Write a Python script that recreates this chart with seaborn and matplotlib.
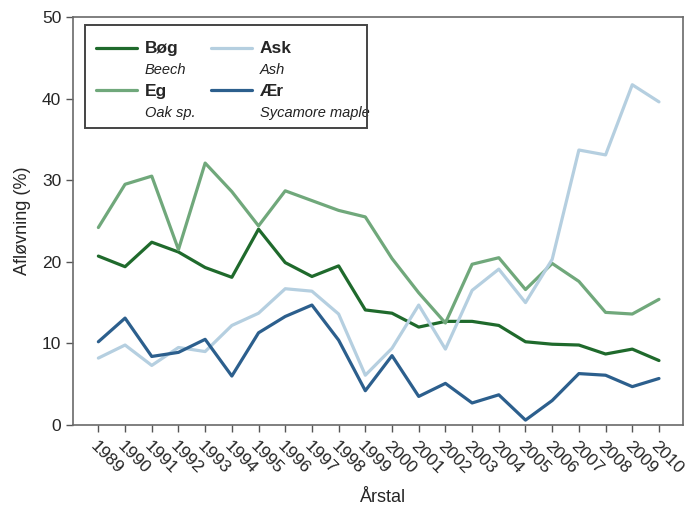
import matplotlib
matplotlib.use("Agg")
import matplotlib.pyplot as plt
from matplotlib.lines import Line2D
from matplotlib.patches import Rectangle
import seaborn as sns
import pandas as pd

years = list(range(1989, 2011))

bog = [20.7, 19.4, 22.4, 21.2, 19.3, 18.1, 24.0, 19.9, 18.2, 19.5, 14.1,
       13.7, 12.0, 12.7, 12.7, 12.2, 10.2, 9.9, 9.8, 8.7, 9.3, 7.9]
eg = [24.2, 29.5, 30.5, 21.5, 32.1, 28.6, 24.4, 28.7, 27.5, 26.3, 25.5,
      20.4, 16.2, 12.5, 19.7, 20.5, 16.6, 19.8, 17.6, 13.8, 13.6, 15.4]
ask = [8.2, 9.8, 7.3, 9.5, 9.0, 12.2, 13.7, 16.7, 16.4, 13.6, 6.1,
       9.4, 14.7, 9.3, 16.5, 19.1, 15.0, 20.3, 33.7, 33.1, 41.7, 39.6]
aer = [10.2, 13.1, 8.4, 8.9, 10.5, 6.0, 11.3, 13.3, 14.7, 10.4, 4.2,
       8.5, 3.5, 5.1, 2.7, 3.7, 0.6, 3.0, 6.3, 6.1, 4.7, 5.7]

species = ["Bøg", "Eg", "Ask", "Ær"]
english = {"Bøg": "Beech", "Eg": "Oak sp.", "Ask": "Ash", "Ær": "Sycamore maple"}
colors = {"Bøg": "#1f6a2c", "Eg": "#70a87b", "Ask": "#b5cfe0", "Ær": "#2c5f8d"}

series = {"Bøg": bog, "Eg": eg, "Ask": ask, "Ær": aer}
df = pd.DataFrame(
    [(y, s, v) for s in species for y, v in zip(years, series[s])],
    columns=["year", "species", "value"],
)

sns.set_theme(style="ticks")
plt.rcParams["font.family"] = ["Liberation Sans", "DejaVu Sans"]

W, H = 689, 516
fig = plt.figure(figsize=(W / 100, H / 100), dpi=100)
L, R, T, B = 73, 683, 17, 425
ax = fig.add_axes([L / W, 1 - B / H, (R - L) / W, (B - T) / H])

sns.lineplot(data=df, x="year", y="value", hue="species", hue_order=species,
             palette=colors, linewidth=2.3, legend=False, ax=ax)

ax.set_xlim(1988.05, 2010.9)
ax.set_ylim(0, 50)
ax.set_xticks(years)
ax.set_xticklabels([str(y) for y in years], rotation=-45, ha="left",
                   va="top", rotation_mode="anchor", fontsize=12.5)
ax.set_yticks(range(0, 51, 10))
ax.tick_params(axis="y", labelsize=12.5, length=5, width=1, color="#555555")
ax.tick_params(axis="x", length=5, width=1, color="#555555", pad=5)
for s in ["top", "right", "left", "bottom"]:
    ax.spines[s].set_visible(True)
    ax.spines[s].set_color("#6a6a6a")
    ax.spines[s].set_linewidth(1.2)

ax.set_xlabel("Årstal", fontsize=13)
ax.xaxis.set_label_coords((383 - L) / (R - L), -(489 - B) / (B - T))
ax.set_ylabel("Afløvning (%)", fontsize=13, labelpad=8)

# Two-column legend: bold Danish name with italic English name below it
blank = Line2D([], [], color="none")
handles, labels = [], []
for col in (["Bøg", "Eg"], ["Ask", "Ær"]):
    for sp in col:
        handles += [Line2D([], [], color=colors[sp], linewidth=2.3), blank]
        labels += [sp, english[sp]]
leg = ax.legend(handles, labels, ncol=2, loc="upper left",
                bbox_to_anchor=((96 - L) / (R - L), 1 - (41 - T) / (B - T)),
                borderaxespad=0, borderpad=0, frameon=False,
                handlelength=2.7, handletextpad=0.5, columnspacing=1.0,
                labelspacing=0.45, fontsize=11)
for i, t in enumerate(leg.get_texts()):
    if i % 2 == 0:
        t.set_fontweight("bold")
        t.set_fontsize(12.5)
    else:
        t.set_fontstyle("italic")
        t.set_fontsize(10.5)
        t.set_color("#222222")

# Frame around the legend block
fig.patches.append(Rectangle((85 / W, 1 - 128 / H), (367 - 85) / W, (128 - 25) / H,
                             transform=fig.transFigure, fill=False,
                             edgecolor="#444444", linewidth=1.4, zorder=5))

fig.savefig("out.png", dpi=100)
